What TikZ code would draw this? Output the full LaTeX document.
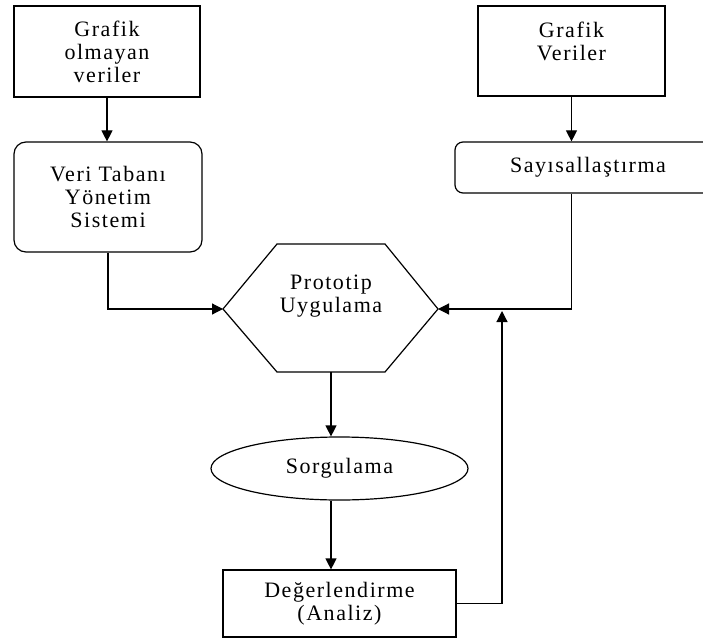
\documentclass[tikz,border=0pt]{standalone}
\usepackage{fontspec}
\setmainfont{Liberation Serif}[LetterSpace=7]
\usetikzlibrary{arrows.meta,shapes.geometric}
\begin{document}
\begin{tikzpicture}[x=1pt,y=-1pt,
  txt/.style={font=\fontsize{22}{23}\selectfont, align=center, inner sep=0pt},
  box/.style={draw, line width=1.2pt, inner sep=0pt, txt},
  arr/.style={-{Triangle[length=11pt,width=11pt]}, line width=1.2pt}]
\useasboundingbox (0,0) rectangle (703,639);
\clip (0,0) rectangle (703,639);
\fill[white] (0,0) rectangle (703,639);
% boxes
\node[box, minimum width=186pt, minimum height=91pt] (gov) at (107,51.5) {Grafik\\olmayan\\veriler};
\node[box, rounded corners=12pt, minimum width=188pt, minimum height=110pt] (vtys) at (108,197) {Veri Tabanı\\Yönetim\\Sistemi};
\node[box, minimum width=187pt, minimum height=90pt] (gv) at (571.5,51) {};
\node[txt] (gvt) at (571.5,41) {Grafik\\Veriler};
\node[box, rounded corners=8pt, minimum width=260pt, minimum height=51pt] (say) at (585,167.5) {};
\node[txt] (sayt) at (588,167) {Sayısallaştırma};
% hexagon
\coordinate (hL) at (223,309);
\coordinate (hR) at (438,309);
\coordinate (hB) at (331,372);
\draw[line width=1.2pt] (277,244) -- (385,244) -- (hR) -- (385,372) -- (277,372) -- (hL) -- cycle;
\node[txt] (prot) at (331,296) {Prototip\\Uygulama};
% ellipse
\node[draw, ellipse, line width=1.2pt, minimum width=257pt, minimum height=63pt, inner sep=0pt, txt] (sorg) at (339.5,468.5) {Sorgulama};
% analysis box
\node[box, minimum width=233pt, minimum height=67pt] (deg) at (339.5,603.5) {Değerlendirme\\(Analiz)};
\coordinate (fb) at (502,311);
% connectors
\draw[arr] (gov.south) -- (gov.south |- vtys.north);
\draw[arr] (vtys.south) |- (hL);
\draw[arr] (gv.south) -- (gv.south |- say.north);
\draw[arr] (gv.south |- say.south) |- (hR);
\draw[arr] (deg.east) -| (fb);
\draw[arr] (hB) -- (hB |- sorg.north);
\draw[arr] (sorg.south -| hB) -- (hB |- deg.north);
\end{tikzpicture}
\end{document}
